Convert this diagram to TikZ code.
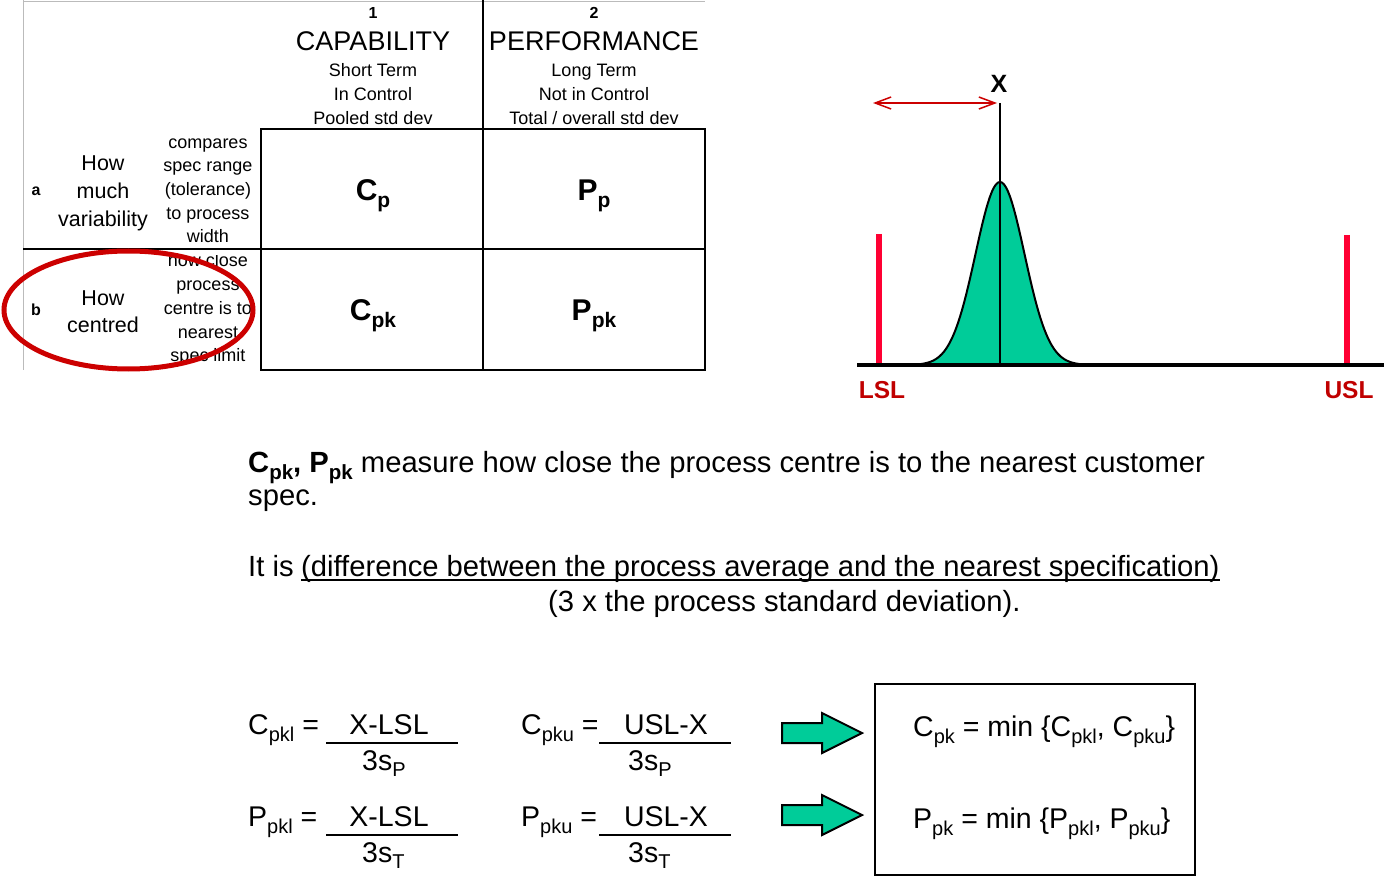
\documentclass[tikz,border=0pt]{standalone}
\usepackage{fontspec}
\setmainfont{Liberation Sans}
\usetikzlibrary{arrows.meta}
\definecolor{bellgreen}{HTML}{00CC99}
\definecolor{barred}{HTML}{FF0033}
\definecolor{lblred}{HTML}{C00000}
\definecolor{ringred}{HTML}{CC0000}
\definecolor{gridgray}{HTML}{BBBBBB}
\newcommand\fs[1]{\fontsize{#1}{#1}\selectfont}
\newcommand\lo[3]{\raisebox{-#1pt}{\fs{#2}#3}}
\begin{document}
\begin{tikzpicture}[x=1pt,y=-1pt,
  txt/.style={inner sep=0pt,anchor=base},
  lt/.style={inner sep=0pt,anchor=base west},
  hdr/.style={txt,font=\fs{18}},
  big/.style={txt,font=\fs{27}},
  rowlbl/.style={txt,font=\fs{21.5}},
  desc/.style={txt,font=\fs{18}},
  cell/.style={txt,font=\bfseries\fs{30}},
  body/.style={lt,font=\fs{28.5}},
  para/.style={lt,font=\fs{29.2}},
  grid/.style={line width=2pt},
  fracline/.style={line width=1.5pt},
  blockarrow/.style={fill=bellgreen,draw=black,line width=2pt,line join=miter}]
\useasboundingbox (0,0) rectangle (1390,877);

% ---------- table ----------
\draw[gridgray,line width=1pt] (23,1.5) -- (705,1.5);
\draw[gridgray,line width=1pt] (23,0) -- (23,370);
\draw[grid] (483,0) -- (483,370);
\draw[grid] (23,249) -- (705,249);
\draw[grid] (261,129) rectangle (705,370);

\node[txt,font=\bfseries\fs{16}] (c1num) at (373,18.5) {1};
\node[big] (c1t) at (373,51) {CAPABILITY};
\node[hdr] (c1a) at (373,76.5) {Short Term};
\node[hdr] (c1b) at (373,100.5) {In Control};
\node[hdr] (c1c) at (373,124.5) {Pooled std dev};

\node[txt,font=\bfseries\fs{16}] (c2num) at (594,18.5) {2};
\node[big] (c2t) at (594,51) {PERFORMANCE};
\node[hdr] (c2a) at (594,76.5) {Long Term};
\node[hdr] (c2b) at (594,100.5) {Not in Control};
\node[hdr] (c2c) at (594,124.5) {Total / overall std dev};

\node[txt,font=\bfseries\fs{16}] (ra) at (36,195.5) {a};
\node[rowlbl] (ra1) at (103,171) {How};
\node[rowlbl] (ra2) at (103,199) {much};
\node[rowlbl] (ra3) at (103,227) {variability};
\node[desc] (da1) at (208,148.5) {compares};
\node[desc] (da2) at (208,172) {spec range};
\node[desc] (da3) at (208,196) {(tolerance)};
\node[desc] (da4) at (208,219.5) {to process};
\node[desc] (da5) at (208,243) {width};

\node[txt,font=\bfseries\fs{16}] (rb) at (36,315.5) {b};
\node[rowlbl] (rb1) at (103,306) {How};
\node[rowlbl] (rb2) at (103,333) {centred};
\begin{scope}
  \clip (160,256) rectangle (259,370);
  \node[desc] (db1) at (208,267) {how close};
  \node[desc] (db2) at (208,291) {process};
  \node[desc] (db3) at (208,315) {centre is to};
  \node[desc] (db4) at (208,338.5) {nearest};
  \node[desc] (db5) at (208,362) {spec limit};
\end{scope}

\node[cell] (cp) at (373,201) {C\lo{7}{21}{p}};
\node[cell] (pp) at (594,201) {P\lo{7}{21}{p}};
\node[cell] (cpk) at (373,321) {C\lo{7}{21}{pk}};
\node[cell] (ppk) at (594,321) {P\lo{7}{21}{pk}};

\draw[ringred,line width=5pt] (128.5,310) ellipse [x radius=124.5pt,y radius=59pt];

% ---------- distribution ----------
\draw[barred,line width=6pt] (879,234) -- (879,365);
\draw[barred,line width=6pt] (1347,235) -- (1347,365);
\fill[bellgreen] plot[domain=900:1100,samples=101] (\x,{365-183*exp(-((\x-1000)/24.5)^2/2)}) -- cycle;
\draw[line width=2pt,line join=round] plot[domain=900:1100,samples=101] (\x,{365-183*exp(-((\x-1000)/24.5)^2/2)});
\draw[line width=4pt] (857,365) -- (1384,365);
\coordinate (xtop) at (1000,103);
\coordinate (xbot) at (1000,365);
\draw[line width=1.5pt] (xtop) -- (xbot);
\coordinate (arL) at (873,103);
\coordinate (arR) at (997,103);
\draw[ringred,line width=1.5pt,{Straight Barb[length=16pt,width=12pt]}-{Straight Barb[length=16pt,width=12pt]}] (arL) -- (arR);
\node[txt,font=\bfseries\fs{25}] (xlbl) at (999,93) {X};
\node[txt,font=\bfseries\fs{24.5},text=lblred] (lsl) at (882,398) {LSL};
\node[txt,font=\bfseries\fs{24.5},text=lblred] (usl) at (1349,398) {USL};

% ---------- text ----------
\node[para] (p1) at (248,472) {\textbf{C\lo{7}{20.5}{pk}, P\lo{7}{20.5}{pk}} measure how close the process centre is to the nearest customer};
\node[para] (p2) at (248,505) {spec.};
\node[para] (p3) at (248,576) {It is};
\node[para] (p4) at (301,576) {(difference between the process average and the nearest specification)};
\draw[line width=1.5pt] ([yshift=-4pt]p4.base west) -- ([yshift=-4pt]p4.base east);
\node[para] (p5) at (548,611) {(3 x the process standard deviation).};

% ---------- formulas ----------
\node[body] (f1) at (248,734) {C\lo{7}{20}{pkl} =};
\node[txt,font=\fs{28.5}] (f1n) at (389,734) {X-LSL};
\draw[fracline] (326,743) -- (458,743);
\node[body] (f1d) at (362,770) {3s\lo{6}{20}{P}};

\node[body] (f2) at (521,734) {C\lo{7}{20}{pku} =};
\node[txt,font=\fs{28.5}] (f2n) at (666,734) {USL-X};
\draw[fracline] (599,743) -- (731,743);
\node[body] (f2d) at (628,770) {3s\lo{6}{20}{P}};

\node[body] (f3) at (248,826) {P\lo{7}{20}{pkl} =};
\node[txt,font=\fs{28.5}] (f3n) at (389,826) {X-LSL};
\draw[fracline] (326,835) -- (458,835);
\node[body] (f3d) at (362,862) {3s\lo{6}{20}{T}};

\node[body] (f4) at (521,826) {P\lo{7}{20}{pku} =};
\node[txt,font=\fs{28.5}] (f4n) at (666,826) {USL-X};
\draw[fracline] (599,835) -- (731,835);
\node[body] (f4d) at (628,862) {3s\lo{6}{20}{T}};

\draw[blockarrow] (782,723) -- (822,723) -- (822,713) -- (862,733) -- (822,753) -- (822,743) -- (782,743) -- cycle;
\draw[blockarrow] (782,805) -- (822,805) -- (822,795) -- (862,815) -- (822,835) -- (822,825) -- (782,825) -- cycle;

\draw[line width=2pt] (875,684) rectangle (1195,875);
\node[body] (r1) at (913,736) {C\lo{7}{20}{pk} = min \{C\lo{7}{20}{pkl}, C\lo{7}{20}{pku}\}};
\node[body] (r2) at (913,828) {P\lo{7}{20}{pk} = min \{P\lo{7}{20}{pkl}, P\lo{7}{20}{pku}\}};
\end{tikzpicture}
\end{document}
